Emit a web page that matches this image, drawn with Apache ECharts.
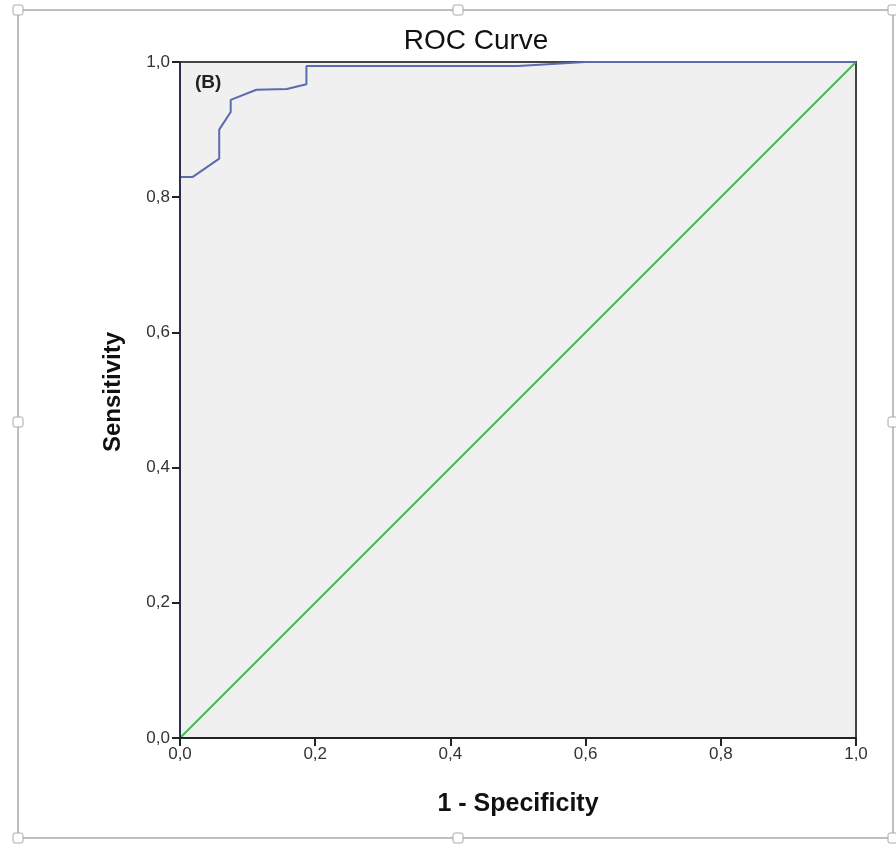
<!DOCTYPE html>
<html><head><meta charset="utf-8">
<script src="https://cdn.jsdelivr.net/npm/echarts@6/dist/echarts.min.js"></script>
<style>html,body{margin:0;padding:0;background:#fff}#c{width:896px;height:845px}</style>
</head><body><div id="c"></div>
<script>
const fpr = [0.000, 0.000, 0.019, 0.058, 0.058, 0.075, 0.075, 0.113, 0.158, 0.187, 0.187, 0.500, 0.600, 1.000];
const tpr = [0.000, 0.830, 0.830, 0.857, 0.900, 0.926, 0.944, 0.959, 0.960, 0.967, 0.994, 0.994, 1.000, 1.000];
const refX = [0, 1];
const refY = [0, 1];

const chart = echarts.init(document.getElementById('c'));
const fmt = v => v.toFixed(1).replace('.', ',');
const handle = (x, y) => ({type:'rect', shape:{x:x-5, y:y-5, width:10, height:10, r:2}, style:{fill:'#fff', stroke:'#aaa', lineWidth:1}, z:10});
chart.setOption({
  backgroundColor: '#fff',
  animation: false,
  title: {text:'ROC Curve', left:471, textAlign:'center', top:22, textStyle:{fontFamily:'Liberation Sans', fontSize:28, fontWeight:'normal', color:'#111'}},
  grid: {left:180, right:40, top:62, bottom:107, show:true, backgroundColor:'#f0f0f0', borderColor:'#444', borderWidth:2},
  xAxis: {type:'value', min:0, max:1, interval:0.2, name:'1 - Specificity', nameLocation:'middle', nameGap:54, z:5,
    nameTextStyle:{fontFamily:'Liberation Sans', fontSize:25, fontWeight:'bold', color:'#111'},
    axisLine:{show:true, lineStyle:{color:'#222', width:2}}, axisTick:{show:true, length:8, lineStyle:{color:'#222', width:2}},
    axisLabel:{formatter:fmt, fontFamily:'Liberation Sans', fontSize:17, color:'#333', margin:8}, splitLine:{show:false}},
  yAxis: {type:'value', min:0, max:1, interval:0.2, name:'Sensitivity', nameLocation:'middle', nameGap:55, z:5,
    nameTextStyle:{fontFamily:'Liberation Sans', fontSize:24, fontWeight:'bold', color:'#111', padding:[0,0,0,16]},
    axisLine:{show:true, lineStyle:{color:'#2a2f4c', width:2}}, axisTick:{show:true, length:8, lineStyle:{color:'#222', width:2}},
    axisLabel:{formatter:fmt, fontFamily:'Liberation Sans', fontSize:17, color:'#333', margin:10}, splitLine:{show:false}},
  series: [
    {type:'line', data: refX.map((x,i)=>[x, refY[i]]), symbol:'none', lineStyle:{color:'#3cba54', width:2}, z:2},
    {type:'line', data: fpr.map((x,i)=>[x, tpr[i]]), symbol:'none', lineStyle:{color:'#5a6bb0', width:2}, z:3}
  ],
  graphic: [
    {type:'text', left:195, top:73, style:{text:'(B)', font:'bold 19px "Liberation Sans"', fill:'#222'}},
    {type:'rect', shape:{x:18, y:10, width:875, height:828}, style:{fill:'none', stroke:'#aaa', lineWidth:1.5}},
    handle(458,10), handle(458,838), handle(18,422), handle(893,422),
    handle(18,10), handle(893,10), handle(18,838), handle(893,838)
  ]
});
</script></body></html>
